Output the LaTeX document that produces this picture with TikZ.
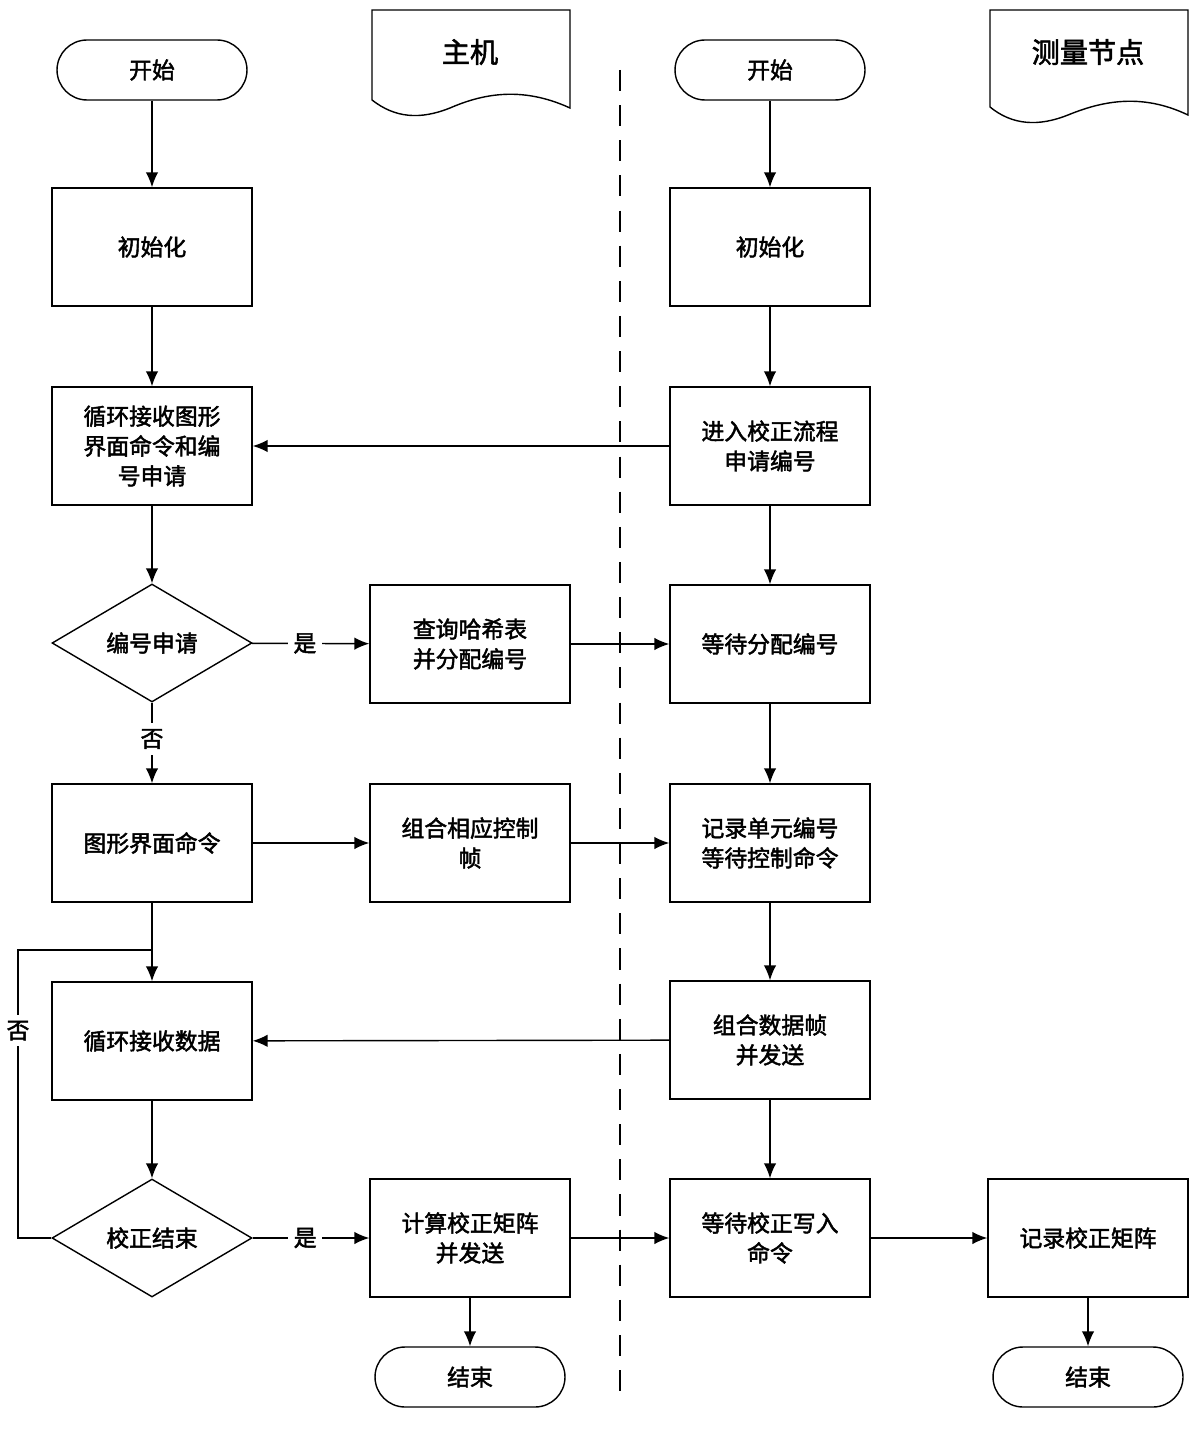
\documentclass[tikz,border=0pt]{standalone}
\usepackage{fontspec}
\setmainfont{Noto Sans CJK SC}[AutoFakeBold=2]
\usetikzlibrary{shapes.geometric,arrows.meta}
\tikzset{box/.style={draw, thick, minimum width=4cm, minimum height=2.36cm, align=center, font=\bfseries\fontsize{13}{17}\selectfont}}
\tikzset{term/.style={draw, thick, rounded corners=0.6cm, minimum width=3.8cm, minimum height=1.2cm, font=\bfseries\fontsize{13}{15}\selectfont}}
\tikzset{decide/.style={draw, thick, diamond, aspect=1.7, minimum width=4cm, minimum height=2.36cm, inner sep=0pt, font=\bfseries\fontsize{13}{15}\selectfont}}
\tikzset{flow/.style={thick, -{Latex[length=3mm,width=2.5mm]}}}
\tikzset{lbl/.style={font=\bfseries\fontsize{13}{15}\selectfont}}
\begin{document}
\begin{tikzpicture}[x=0.02cm, y=-0.02cm]
\useasboundingbox (0,0) rectangle (1200,1435);
% host column
\node[term] (s1) at (152,70) {开始};
\node[box] (init1) at (152,247) {初始化};
\node[box] (loop1) at (152,446) {循环接收图形\\界面命令和编\\号申请};
\node[decide] (req) at (152,643) {编号申请};
\node[box] (gui) at (152,843) {图形界面命令};
\node[box] (recv) at (152,1041) {循环接收数据};
\node[decide] (fin) at (152,1238) {校正结束};
\node[box] (hash) at (470,644) {查询哈希表\\并分配编号};
\node[box] (comb) at (470,843) {组合相应控制\\帧};
\node[box] (calc) at (470,1238) {计算校正矩阵\\并发送};
\node[term] (e1) at (470,1377) {结束};
% node column
\node[term] (s2) at (770,70) {开始};
\node[box] (init2) at (770,247) {初始化};
\node[box] (enter) at (770,446) {进入校正流程\\申请编号};
\node[box] (wait) at (770,644) {等待分配编号};
\node[box] (rec) at (770,843) {记录单元编号\\等待控制命令};
\node[box] (data) at (770,1040) {组合数据帧\\并发送};
\node[box] (wcal) at (770,1238) {等待校正写入\\命令};
\node[box] (rmat) at (1088,1238) {记录校正矩阵};
\node[term] (e2) at (1088,1377) {结束};
% titles
\draw[thick] (372,10) -- (570,10) -- (570,108) .. controls (520,85) and (480,95) .. (450,108) .. controls (420,120) and (395,118) .. (372,100) -- cycle;
\node[lbl, font=\bfseries\fontsize{16}{18}\selectfont] (host) at (470,52) {主机};
\draw[thick] (990,10) -- (1188,10) -- (1188,115) .. controls (1140,92) and (1100,102) .. (1068,115) .. controls (1038,127) and (1012,125) .. (990,107) -- cycle;
\node[lbl, font=\bfseries\fontsize{16}{18}\selectfont] (meas) at (1088,52) {测量节点};
\coordinate (dt) at (620,70);
\coordinate (db) at (620,1395);
\draw[thick, dashed, dash pattern=on 12pt off 8pt] (dt) -- (db);
% arrows
\draw[flow] (s1) -- (init1);
\draw[flow] (init1) -- (loop1);
\draw[flow] (loop1) -- (req);
\draw[flow] (req) -- node[lbl, fill=white, pos=0.45] {否} (gui);
\draw[flow] (req) -- node[lbl, fill=white, pos=0.45] {是} (hash);
\draw[flow] (gui) -- (comb);
\draw[flow] (gui) -- (recv);
\draw[flow] (recv) -- (fin);
\draw[flow] (fin) -- node[lbl, fill=white, pos=0.45] {是} (calc);
\draw[flow] (calc) -- (e1);
\coordinate (bk) at (18,950);
\draw[thick] (fin.west) -| node[lbl, fill=white, pos=0.86] {否} (bk) -- (152,950);
\draw[flow] (s2) -- (init2);
\draw[flow] (init2) -- (enter);
\draw[flow] (enter) -- (wait);
\draw[flow] (wait) -- (rec);
\draw[flow] (rec) -- (data);
\draw[flow] (data) -- (wcal);
\draw[flow] (wcal) -- (rmat);
\draw[flow] (rmat) -- (e2);
\draw[flow] (enter) -- (loop1);
\draw[flow] (hash) -- (wait);
\draw[flow] (comb) -- (rec);
\draw[flow] (data) -- (recv);
\draw[flow] (calc) -- (wcal);
\end{tikzpicture}
\end{document}
